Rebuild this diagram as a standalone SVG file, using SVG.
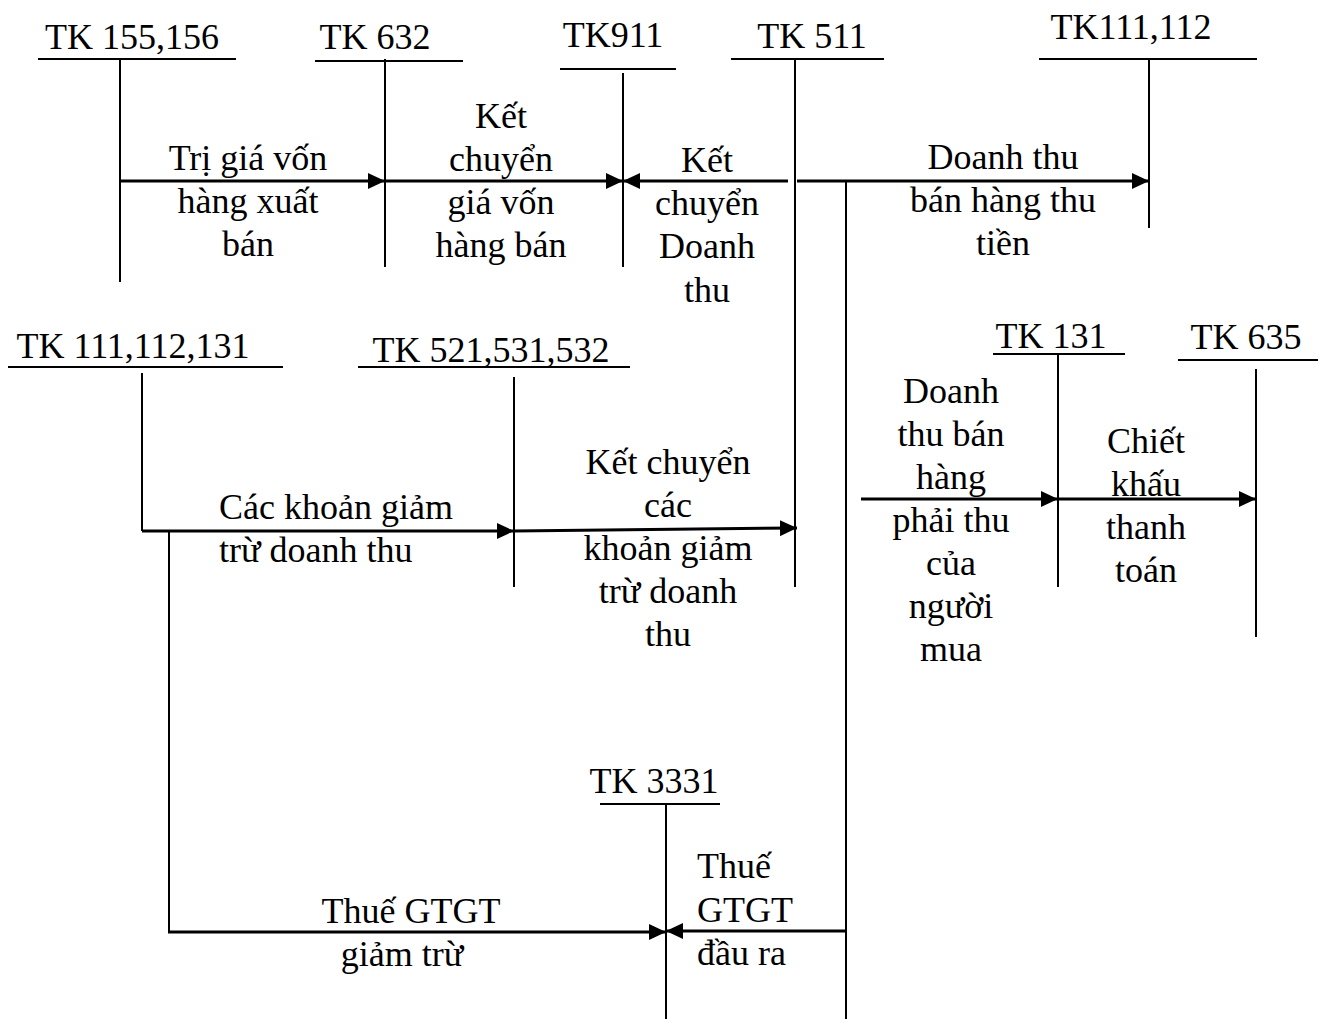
<svg xmlns="http://www.w3.org/2000/svg" width="1323" height="1019" viewBox="0 0 1323 1019">
<style>
text{font-family:"Liberation Serif","Times New Roman",serif;font-size:36px;fill:#000}
.c{text-anchor:middle}
.ul{stroke:#000;stroke-width:2}
.v{stroke:#000;stroke-width:2}
.a{stroke:#000;stroke-width:3;fill:none}
</style>
<defs>
<marker id="ah" markerUnits="userSpaceOnUse" markerWidth="17" markerHeight="16" refX="17" refY="8" orient="auto">
<path d="M0,0 L17,8 L0,16 z" fill="#000"/>
</marker>
</defs>
<rect width="1323" height="1019" fill="#fff"/>

<g id="tk155">
<text x="132" y="49" class="c">TK 155,156</text>
<line class="ul" x1="38" y1="59" x2="236" y2="59"/>
<line class="v" x1="120" y1="59" x2="120" y2="282"/>
</g>
<g id="tk632">
<text x="375" y="49" class="c">TK 632</text>
<line class="ul" x1="315" y1="61" x2="463" y2="61"/>
<line class="v" x1="385" y1="59" x2="385" y2="267"/>
</g>
<g id="tk911">
<text x="613" y="47" class="c">TK911</text>
<line class="ul" x1="560" y1="69" x2="676" y2="69"/>
<line class="v" x1="623" y1="73" x2="623" y2="267"/>
</g>
<g id="tk511">
<text x="812" y="48" class="c">TK 511</text>
<line class="ul" x1="731" y1="59" x2="884" y2="59"/>
<line class="v" x1="795" y1="59" x2="795" y2="587"/>
</g>
<g id="tk111_112">
<text x="1131" y="39" class="c">TK111,112</text>
<line class="ul" x1="1039" y1="59" x2="1257" y2="59"/>
<line class="v" x1="1149" y1="59" x2="1149" y2="228"/>
</g>
<g id="tk111_112_131">
<text x="133" y="358" class="c">TK 111,112,131</text>
<line class="ul" x1="8" y1="367" x2="283" y2="367"/>
<line class="v" x1="142" y1="373" x2="142" y2="531"/>
</g>
<g id="tk521">
<text x="491" y="362" class="c">TK 521,531,532</text>
<line class="ul" x1="358" y1="367" x2="630" y2="367"/>
<line class="v" x1="514" y1="377" x2="514" y2="587"/>
</g>
<g id="tk131">
<text x="1051" y="348" class="c">TK 131</text>
<line class="ul" x1="993" y1="354" x2="1125" y2="354"/>
<line class="v" x1="1058" y1="354" x2="1058" y2="587"/>
</g>
<g id="tk635">
<text x="1246" y="349" class="c">TK 635</text>
<line class="ul" x1="1178" y1="360" x2="1318" y2="360"/>
<line class="v" x1="1256" y1="369" x2="1256" y2="637"/>
</g>
<g id="tk3331">
<text x="654" y="793" class="c">TK 3331</text>
<line class="ul" x1="600" y1="804" x2="720" y2="804"/>
<line class="v" x1="666" y1="804" x2="666" y2="1019"/>
</g>

<g id="connectors">
<line class="a" x1="120" y1="181" x2="385" y2="181" marker-end="url(#ah)"/>
<line class="a" x1="385" y1="181" x2="623" y2="181" marker-end="url(#ah)"/>
<line class="a" x1="788" y1="181" x2="623" y2="181" marker-end="url(#ah)"/>
<line class="a" x1="797" y1="181" x2="1149" y2="181" marker-end="url(#ah)"/>
<line class="v" x1="846" y1="181" x2="846" y2="1019"/>
<line class="a" x1="142" y1="531" x2="514" y2="531" marker-end="url(#ah)"/>
<line class="a" x1="514" y1="531" x2="797" y2="528" marker-end="url(#ah)"/>
<line class="v" x1="169" y1="531" x2="169" y2="932"/>
<line class="a" x1="168" y1="932" x2="666" y2="932" marker-end="url(#ah)"/>
<line class="a" x1="847" y1="931" x2="666" y2="931" marker-end="url(#ah)"/>
<line class="a" x1="861" y1="499" x2="1058" y2="499" marker-end="url(#ah)"/>
<line class="a" x1="1058" y1="499" x2="1256" y2="499" marker-end="url(#ah)"/>
</g>

<g id="labels">
<text class="c" x="248" y="170">Trị giá vốn</text>
<text class="c" x="248" y="213">hàng xuất</text>
<text class="c" x="248" y="256">bán</text>

<text class="c" x="501" y="128">Kết</text>
<text class="c" x="501" y="171">chuyển</text>
<text class="c" x="501" y="214">giá vốn</text>
<text class="c" x="501" y="257">hàng bán</text>

<text class="c" x="707" y="172">Kết</text>
<text class="c" x="707" y="215">chuyển</text>
<text class="c" x="707" y="258">Doanh</text>
<text class="c" x="707" y="302">thu</text>

<text class="c" x="1003" y="169">Doanh thu</text>
<text class="c" x="1003" y="212">bán hàng thu</text>
<text class="c" x="1003" y="255">tiền</text>

<text x="219" y="519">Các khoản giảm</text>
<text x="219" y="562">trừ doanh thu</text>

<text class="c" x="668" y="474">Kết chuyển</text>
<text class="c" x="668" y="517">các</text>
<text class="c" x="668" y="560">khoản giảm</text>
<text class="c" x="668" y="603">trừ doanh</text>
<text class="c" x="668" y="646">thu</text>

<text class="c" x="951" y="403">Doanh</text>
<text class="c" x="951" y="446">thu bán</text>
<text class="c" x="951" y="489">hàng</text>
<text class="c" x="951" y="532">phải thu</text>
<text class="c" x="951" y="575">của</text>
<text class="c" x="951" y="618">người</text>
<text class="c" x="951" y="661">mua</text>

<text class="c" x="1146" y="453">Chiết</text>
<text class="c" x="1146" y="496">khấu</text>
<text class="c" x="1146" y="539">thanh</text>
<text class="c" x="1146" y="582">toán</text>

<text class="c" x="411" y="923">Thuế GTGT</text>
<text class="c" x="402" y="966">giảm trừ</text>

<text x="697" y="878">Thuế</text>
<text x="697" y="922">GTGT</text>
<text x="697" y="965">đầu ra</text>
</g>
</svg>
